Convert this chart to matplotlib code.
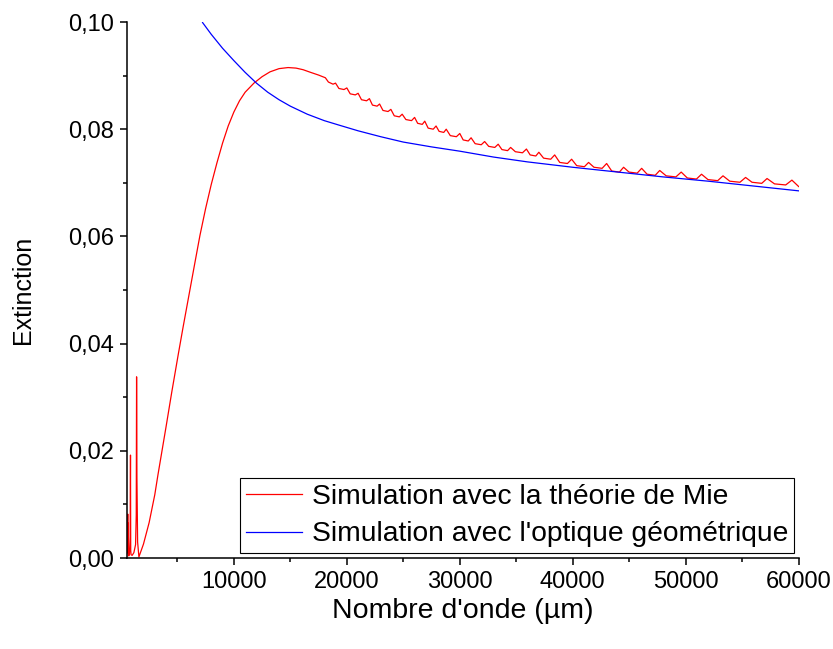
import matplotlib
matplotlib.use("Agg")
import matplotlib.pyplot as plt
from matplotlib.ticker import MultipleLocator, FuncFormatter

plt.rcParams['font.family'] = ['Liberation Sans', 'DejaVu Sans']

# Mie theory: spikes at low wavenumber + rise to the maximum
mie_x = [500, 540, 580, 610, 630, 650, 670, 700, 760, 820, 850, 870, 900, 1000, 1150,
         1300, 1360, 1390, 1420, 1480, 1595, 2000, 2500, 3000, 3280, 4000, 4500, 5080,
         5500, 6000, 6500, 7000, 7500, 8000, 8500, 9000, 9500, 10000, 10500, 11000,
         11780, 12500, 13200, 14000, 14800, 15500, 16130, 16800, 17500]
mie_y = [0.0002, 0.0010, 0.0040, 0.0082, 0.0010, 0.0065, 0.0008, 0.0004, 0.0008, 0.0040,
         0.0192, 0.0015, 0.0006, 0.0005, 0.0010, 0.0025, 0.0080, 0.0338, 0.0150, 0.0030,
         0.0002, 0.0026, 0.0066, 0.0118, 0.0155, 0.0245, 0.0309, 0.0380, 0.0430, 0.0488,
         0.0545, 0.0602, 0.0652, 0.0697, 0.0737, 0.0774, 0.0806, 0.0832, 0.0853, 0.0869,
         0.0886, 0.0898, 0.0907, 0.0913, 0.0915, 0.0914, 0.0911, 0.0906, 0.0901]

# Mie theory: ripples (peak, level after the drop, level before the next rise)
peak_x = [18100, 19000, 20000, 21000, 22000, 22900, 23900, 24900, 26000, 26900, 27900,
          28800, 30000, 31000, 32200, 33400, 34500, 35900, 37000, 38400, 39900, 41400,
          43000, 44500, 46100, 47700, 49600, 51400, 53300, 55300, 57200, 59400]
peak_y = [0.0896, 0.0886, 0.0877, 0.0867, 0.0857, 0.0847, 0.0837, 0.0828, 0.0822, 0.0815,
          0.0806, 0.0800, 0.0792, 0.0784, 0.0777, 0.0772, 0.0766, 0.0763, 0.0757, 0.0752,
          0.0744, 0.0738, 0.0736, 0.0729, 0.0727, 0.0723, 0.0720, 0.0716, 0.0713, 0.0710,
          0.0708, 0.0705]
drop_x = [18370, 19300, 20300, 21300, 22270, 23200, 24200, 25230, 26270, 27200, 28170,
          29160, 30300, 31360, 32560, 33730, 34920, 36230, 37420, 38850, 40350, 41880,
          43450, 44980, 46580, 48270, 50140, 51970, 53900, 55870, 57860, 60000]
drop_y = [0.0888, 0.0876, 0.0866, 0.0855, 0.0845, 0.0835, 0.0825, 0.0818, 0.0811, 0.0802,
          0.0796, 0.0788, 0.0780, 0.0773, 0.0768, 0.0762, 0.0758, 0.0752, 0.0746, 0.0738,
          0.0732, 0.0729, 0.0722, 0.0720, 0.0716, 0.0713, 0.0709, 0.0706, 0.0703, 0.0701,
          0.0698, 0.0693]
rise_x = [18780, 19750, 20750, 21750, 22680, 23650, 24650, 25730, 26680, 27650, 28580,
          29700, 30750, 31900, 33100, 34230, 35550, 36730, 38050, 39530, 41030, 42600,
          44130, 45700, 47300, 49130, 50950, 52830, 54800, 56730, 58850]
rise_y = [0.0884, 0.0874, 0.0864, 0.0853, 0.0843, 0.0833, 0.0823, 0.0816, 0.0809, 0.0800,
          0.0794, 0.0786, 0.0778, 0.0771, 0.0766, 0.0760, 0.0756, 0.0750, 0.0744, 0.0736,
          0.0730, 0.0727, 0.0720, 0.0718, 0.0714, 0.0711, 0.0707, 0.0704, 0.0701, 0.0699,
          0.0696]

# geometric optics
geo_x = [7230, 8000, 9000, 10000, 11000, 12000, 13000, 14000, 15000, 16500, 18000, 19250,
         21000, 23000, 25000, 27500, 30000, 33000, 36000, 40000, 44000, 48000, 52000,
         56000, 60000]
geo_y = [0.0999, 0.0977, 0.0951, 0.0928, 0.0906, 0.0886, 0.0869, 0.0855, 0.0843, 0.0828,
         0.0816, 0.0808, 0.0797, 0.0786, 0.0776, 0.0767, 0.0759, 0.0748, 0.0739, 0.0729,
         0.0720, 0.0711, 0.0703, 0.0694, 0.0685]

labels = ["Simulation avec la théorie de Mie", "Simulation avec l'optique géométrique"]

red_x = list(mie_x)
red_y = list(mie_y)
for i in range(len(peak_x)):
    red_x += [peak_x[i], drop_x[i]]
    red_y += [peak_y[i], drop_y[i]]
    if i < len(rise_x):
        red_x.append(rise_x[i])
        red_y.append(rise_y[i])

fig = plt.figure(figsize=(8.33, 6.49), dpi=100)
ax = fig.add_axes([0.1519, 0.1402, 0.8069, 0.8259])

ax.plot(red_x, red_y, color="#ff0000", lw=0.9, label=labels[0])
ax.plot(geo_x, geo_y, color="#0000ff", lw=0.9, label=labels[1])

ax.set_xlim(500, 60000)
ax.set_ylim(0, 0.1)
ax.xaxis.set_major_locator(MultipleLocator(10000))
ax.xaxis.set_minor_locator(MultipleLocator(5000))
ax.yaxis.set_major_locator(MultipleLocator(0.02))
ax.yaxis.set_minor_locator(MultipleLocator(0.01))
ax.yaxis.set_major_formatter(FuncFormatter(lambda v, p: f"{v:.2f}".replace(".", ",")))
ax.xaxis.set_major_formatter(FuncFormatter(lambda v, p: f"{v:.0f}"))

for s in ["top", "right"]:
    ax.spines[s].set_visible(False)
for s in ["left", "bottom"]:
    ax.spines[s].set_linewidth(1.1)

ax.tick_params(which="major", direction="out", length=5, width=1.1, labelsize=17, pad=4)
ax.tick_params(which="minor", direction="out", length=3, width=1.1)

ax.set_xlabel("Nombre d'onde (µm)", fontsize=20.5, labelpad=4)
ax.set_ylabel("Extinction", fontsize=18, labelpad=24)

leg = ax.legend(loc="lower right", bbox_to_anchor=(0.993, 0.0093), fontsize=20.3,
                frameon=True, fancybox=False, edgecolor="black", framealpha=1,
                handlelength=2.0, handletextpad=0.35, borderpad=0.2, labelspacing=0.4,
                borderaxespad=0)
leg.get_frame().set_linewidth(0.8)

plt.savefig("out.png", dpi=100)
